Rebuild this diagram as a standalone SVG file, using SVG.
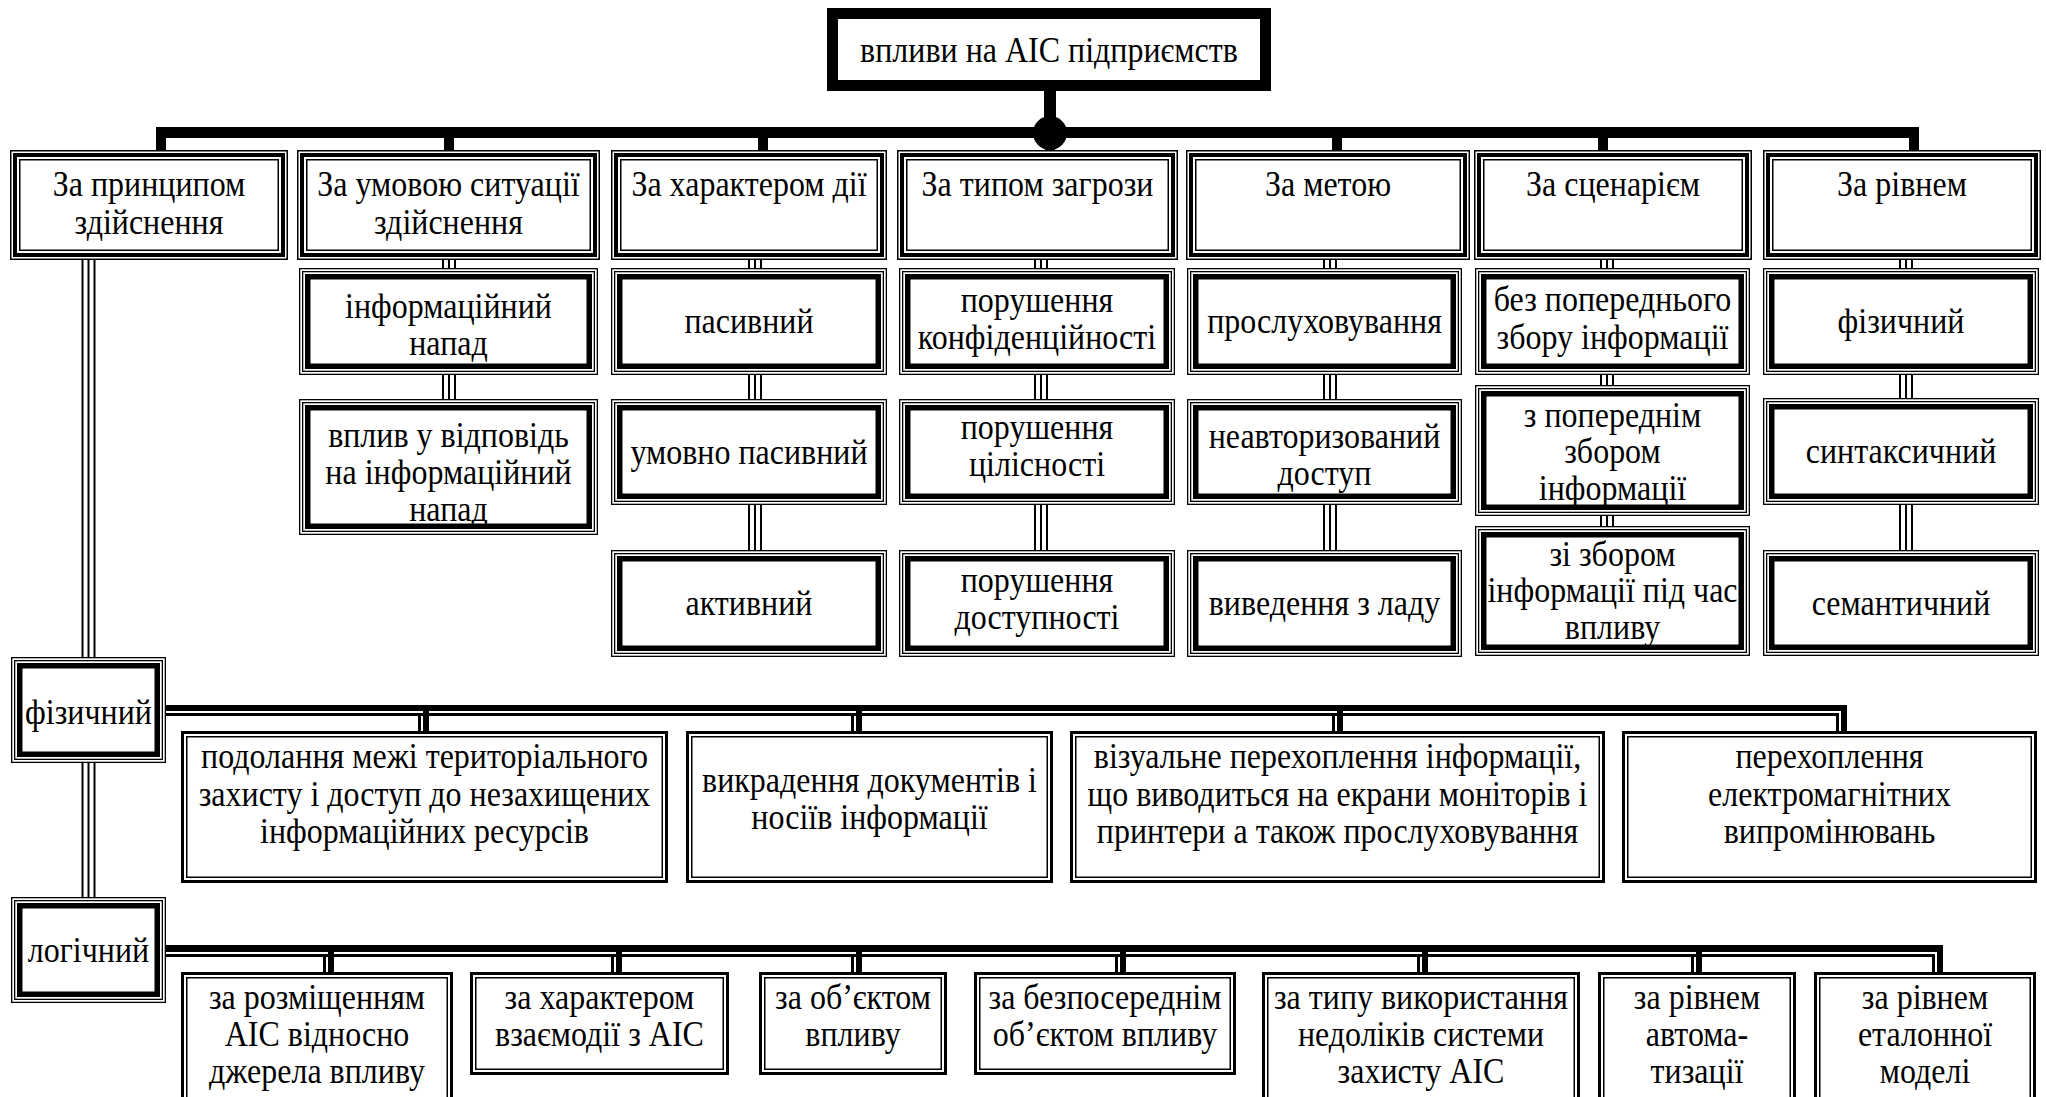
<svg xmlns="http://www.w3.org/2000/svg" width="2046" height="1097" viewBox="0 0 2046 1097">
<defs>
<style>
.t{font-family:"Liberation Serif","Times New Roman",serif;font-size:32px;text-anchor:middle;fill:#000;transform-box:fill-box;transform-origin:center;transform:scaleY(1.12)}
.w1{fill:none;stroke:#000;stroke-width:1.5}
.w13{fill:none;stroke:#000;stroke-width:1.3}
.w3{fill:none;stroke:#000;stroke-width:3}
.w4{fill:none;stroke:#000;stroke-width:4}
.w55{fill:none;stroke:#000;stroke-width:5.5}
.w11{fill:none;stroke:#000;stroke-width:11}
.k{fill:#000}
</style>
</defs>
<rect width="2046" height="1097" fill="#fff"/>

<g id="connectors">
  <rect class="k" x="1044" y="88" width="12" height="45"/>
  <rect class="k" x="156" y="127" width="1763" height="11"/>
  <rect class="k" x="156" y="127" width="10" height="24"/>
  <rect class="k" x="444" y="132" width="10" height="19"/>
  <rect class="k" x="758" y="132" width="10" height="19"/>
  <rect class="k" x="1045" y="132" width="10" height="19"/>
  <rect class="k" x="1332" y="132" width="10" height="19"/>
  <rect class="k" x="1598" y="132" width="10" height="19"/>
  <rect class="k" x="1909" y="127" width="10" height="24"/>
  <circle class="k" cx="1050" cy="133" r="17"/>

  <g class="k">
    <rect x="81.5" y="260" width="2" height="397"/><rect x="87.5" y="260" width="2" height="397"/><rect x="93.5" y="260" width="2" height="397"/>
    <rect x="81.5" y="763" width="2" height="134"/><rect x="87.5" y="763" width="2" height="134"/><rect x="93.5" y="763" width="2" height="134"/>

    <rect x="442" y="259" width="2" height="10"/><rect x="448" y="259" width="2" height="10"/><rect x="454" y="259" width="2" height="10"/>
    <rect x="442" y="374" width="2" height="26"/><rect x="448" y="374" width="2" height="26"/><rect x="454" y="374" width="2" height="26"/>

    <rect x="748" y="259" width="2" height="10"/><rect x="754" y="259" width="2" height="10"/><rect x="760" y="259" width="2" height="10"/>
    <rect x="748" y="374" width="2" height="26"/><rect x="754" y="374" width="2" height="26"/><rect x="760" y="374" width="2" height="26"/>
    <rect x="748" y="504" width="2" height="47"/><rect x="754" y="504" width="2" height="47"/><rect x="760" y="504" width="2" height="47"/>

    <rect x="1034" y="259" width="2" height="10"/><rect x="1040" y="259" width="2" height="10"/><rect x="1046" y="259" width="2" height="10"/>
    <rect x="1034" y="374" width="2" height="26"/><rect x="1040" y="374" width="2" height="26"/><rect x="1046" y="374" width="2" height="26"/>
    <rect x="1034" y="504" width="2" height="47"/><rect x="1040" y="504" width="2" height="47"/><rect x="1046" y="504" width="2" height="47"/>

    <rect x="1323" y="259" width="2" height="10"/><rect x="1329" y="259" width="2" height="10"/><rect x="1335" y="259" width="2" height="10"/>
    <rect x="1323" y="374" width="2" height="26"/><rect x="1329" y="374" width="2" height="26"/><rect x="1335" y="374" width="2" height="26"/>
    <rect x="1323" y="504" width="2" height="47"/><rect x="1329" y="504" width="2" height="47"/><rect x="1335" y="504" width="2" height="47"/>

    <rect x="1600" y="259" width="2" height="10"/><rect x="1606" y="259" width="2" height="10"/><rect x="1612" y="259" width="2" height="10"/>
    <rect x="1600" y="374" width="2" height="12"/><rect x="1606" y="374" width="2" height="12"/><rect x="1612" y="374" width="2" height="12"/>
    <rect x="1600" y="515" width="2" height="12"/><rect x="1606" y="515" width="2" height="12"/><rect x="1612" y="515" width="2" height="12"/>

    <rect x="1899" y="259" width="2" height="10"/><rect x="1905" y="259" width="2" height="10"/><rect x="1911" y="259" width="2" height="10"/>
    <rect x="1899" y="374" width="2" height="25"/><rect x="1905" y="374" width="2" height="25"/><rect x="1911" y="374" width="2" height="25"/>
    <rect x="1899" y="504" width="2" height="47"/><rect x="1905" y="504" width="2" height="47"/><rect x="1911" y="504" width="2" height="47"/>
  </g>

  <g class="k">
    <rect x="165" y="705" width="1682" height="6"/>
    <rect x="165" y="713" width="1674" height="3"/>
    <rect x="1841" y="705" width="6" height="27"/>
    <rect x="1836" y="713" width="3" height="19"/>
    <rect x="418" y="716" width="3" height="16"/><rect x="423" y="711" width="6" height="21"/>
    <rect x="851" y="716" width="3" height="16"/><rect x="856" y="711" width="6" height="21"/>
    <rect x="1332" y="716" width="3" height="16"/><rect x="1337" y="711" width="6" height="21"/>
  </g>

  <g class="k">
    <rect x="165" y="945" width="1778" height="7"/>
    <rect x="165" y="954" width="1770" height="3"/>
    <rect x="1937" y="945" width="6" height="28"/>
    <rect x="1932" y="954" width="3" height="19"/>
    <rect x="323" y="957" width="3" height="16"/><rect x="328" y="952" width="6" height="21"/>
    <rect x="611" y="957" width="3" height="16"/><rect x="616" y="952" width="6" height="21"/>
    <rect x="851" y="957" width="3" height="16"/><rect x="856" y="952" width="6" height="21"/>
    <rect x="1115" y="957" width="3" height="16"/><rect x="1120" y="952" width="6" height="21"/>
    <rect x="1417" y="957" width="3" height="16"/><rect x="1422" y="952" width="6" height="21"/>
    <rect x="1691" y="957" width="3" height="16"/><rect x="1696" y="952" width="6" height="21"/>
  </g>
</g>

<g id="root">
  <rect x="832.5" y="13.5" width="433" height="72" fill="#fff" class="w11"/>
  <text class="t" x="1049" y="61">впливи на АІС підприємств</text>
</g>

<g id="c1">
  <rect class="w1" x="10.75" y="150.75" width="276.5" height="108.5" fill="#fff"/>
  <rect class="w4" x="15" y="155" width="268" height="100"/>
  <rect class="w1" x="19.75" y="159.75" width="258.5" height="90.5"/>
  <text class="t" x="149" y="195">За принципом</text>
  <text class="t" x="149" y="233">здійснення</text>
</g>
<g id="c2">
  <rect class="w1" x="297.75" y="150.75" width="301.5" height="108.5" fill="#fff"/>
  <rect class="w4" x="302" y="155" width="293" height="100"/>
  <rect class="w1" x="306.75" y="159.75" width="283.5" height="90.5"/>
  <text class="t" x="448.5" y="195">За умовою ситуації</text>
  <text class="t" x="448.5" y="233">здійснення</text>
</g>
<g id="c3">
  <rect class="w1" x="611.75" y="150.75" width="274.5" height="108.5" fill="#fff"/>
  <rect class="w4" x="616" y="155" width="266" height="100"/>
  <rect class="w1" x="620.75" y="159.75" width="256.5" height="90.5"/>
  <text class="t" x="749" y="195">За характером дії</text>
</g>
<g id="c4">
  <rect class="w1" x="897.75" y="150.75" width="279.5" height="108.5" fill="#fff"/>
  <rect class="w4" x="902" y="155" width="271" height="100"/>
  <rect class="w1" x="906.75" y="159.75" width="261.5" height="90.5"/>
  <text class="t" x="1037.5" y="195">За типом загрози</text>
</g>
<g id="c5">
  <rect class="w1" x="1186.75" y="150.75" width="282.5" height="108.5" fill="#fff"/>
  <rect class="w4" x="1191" y="155" width="274" height="100"/>
  <rect class="w1" x="1195.75" y="159.75" width="264.5" height="90.5"/>
  <text class="t" x="1328" y="195">За метою</text>
</g>
<g id="c6">
  <rect class="w1" x="1474.75" y="150.75" width="276.5" height="108.5" fill="#fff"/>
  <rect class="w4" x="1479" y="155" width="268" height="100"/>
  <rect class="w1" x="1483.75" y="159.75" width="258.5" height="90.5"/>
  <text class="t" x="1613" y="195">За сценарієм</text>
</g>
<g id="c7">
  <rect class="w1" x="1763.75" y="150.75" width="276.5" height="108.5" fill="#fff"/>
  <rect class="w4" x="1768" y="155" width="268" height="100"/>
  <rect class="w1" x="1772.75" y="159.75" width="258.5" height="90.5"/>
  <text class="t" x="1902" y="195">За рівнем</text>
</g>

<g id="r2c2">
  <rect class="w13" x="299.65" y="268.65" width="297.7" height="105.7" fill="#fff"/>
  <rect class="w13" x="302.65" y="271.65" width="291.7" height="99.7"/>
  <rect class="w55" x="307.75" y="276.75" width="281.5" height="89.5"/>
  <text class="t" x="448.5" y="317">інформаційний</text>
  <text class="t" x="448.5" y="354">напад</text>
</g>
<g id="r3c2">
  <rect class="w13" x="299.65" y="399.65" width="297.7" height="134.7" fill="#fff"/>
  <rect class="w13" x="302.65" y="402.65" width="291.7" height="128.7"/>
  <rect class="w55" x="307.75" y="407.75" width="281.5" height="118.5"/>
  <text class="t" x="448.5" y="446">вплив у відповідь</text>
  <text class="t" x="448.5" y="483">на інформаційний</text>
  <text class="t" x="448.5" y="520">напад</text>
</g>

<g id="r2c3">
  <rect class="w13" x="611.65" y="268.65" width="274.7" height="105.7" fill="#fff"/>
  <rect class="w13" x="614.65" y="271.65" width="268.7" height="99.7"/>
  <rect class="w55" x="619.75" y="276.75" width="258.5" height="89.5"/>
  <text class="t" x="749" y="332">пасивний</text>
</g>
<g id="r3c3">
  <rect class="w13" x="611.65" y="399.65" width="274.7" height="104.7" fill="#fff"/>
  <rect class="w13" x="614.65" y="402.65" width="268.7" height="98.7"/>
  <rect class="w55" x="619.75" y="407.75" width="258.5" height="88.5"/>
  <text class="t" x="749" y="463">умовно пасивний</text>
</g>
<g id="r4c3">
  <rect class="w13" x="611.65" y="550.65" width="274.7" height="105.7" fill="#fff"/>
  <rect class="w13" x="614.65" y="553.65" width="268.7" height="99.7"/>
  <rect class="w55" x="619.75" y="558.75" width="258.5" height="89.5"/>
  <text class="t" x="749" y="614">активний</text>
</g>

<g id="r2c4">
  <rect class="w13" x="899.65" y="268.65" width="274.7" height="105.7" fill="#fff"/>
  <rect class="w13" x="902.65" y="271.65" width="268.7" height="99.7"/>
  <rect class="w55" x="907.75" y="276.75" width="258.5" height="89.5"/>
  <text class="t" x="1037" y="311">порушення</text>
  <text class="t" x="1037" y="348">конфіденційності</text>
</g>
<g id="r3c4">
  <rect class="w13" x="899.65" y="399.65" width="274.7" height="104.7" fill="#fff"/>
  <rect class="w13" x="902.65" y="402.65" width="268.7" height="98.7"/>
  <rect class="w55" x="907.75" y="407.75" width="258.5" height="88.5"/>
  <text class="t" x="1037" y="438">порушення</text>
  <text class="t" x="1037" y="475">цілісності</text>
</g>
<g id="r4c4">
  <rect class="w13" x="899.65" y="550.65" width="274.7" height="105.7" fill="#fff"/>
  <rect class="w13" x="902.65" y="553.65" width="268.7" height="99.7"/>
  <rect class="w55" x="907.75" y="558.75" width="258.5" height="89.5"/>
  <text class="t" x="1037" y="591">порушення</text>
  <text class="t" x="1037" y="628">доступності</text>
</g>

<g id="r2c5">
  <rect class="w13" x="1187.65" y="268.65" width="273.7" height="105.7" fill="#fff"/>
  <rect class="w13" x="1190.65" y="271.65" width="267.7" height="99.7"/>
  <rect class="w55" x="1195.75" y="276.75" width="257.5" height="89.5"/>
  <text class="t" x="1324.5" y="332">прослуховування</text>
</g>
<g id="r3c5">
  <rect class="w13" x="1187.65" y="399.65" width="273.7" height="104.7" fill="#fff"/>
  <rect class="w13" x="1190.65" y="402.65" width="267.7" height="98.7"/>
  <rect class="w55" x="1195.75" y="407.75" width="257.5" height="88.5"/>
  <text class="t" x="1324.5" y="447">неавторизований</text>
  <text class="t" x="1324.5" y="484">доступ</text>
</g>
<g id="r4c5">
  <rect class="w13" x="1187.65" y="550.65" width="273.7" height="105.7" fill="#fff"/>
  <rect class="w13" x="1190.65" y="553.65" width="267.7" height="99.7"/>
  <rect class="w55" x="1195.75" y="558.75" width="257.5" height="89.5"/>
  <text class="t" x="1324.5" y="614">виведення з ладу</text>
</g>

<g id="r2c6">
  <rect class="w13" x="1475.65" y="268.65" width="273.7" height="105.7" fill="#fff"/>
  <rect class="w13" x="1478.65" y="271.65" width="267.7" height="99.7"/>
  <rect class="w55" x="1483.75" y="276.75" width="257.5" height="89.5"/>
  <text class="t" x="1612.5" y="310">без попереднього</text>
  <text class="t" x="1612.5" y="348">збору інформації</text>
</g>
<g id="r3c6">
  <rect class="w13" x="1475.65" y="385.65" width="273.7" height="129.7" fill="#fff"/>
  <rect class="w13" x="1478.65" y="388.65" width="267.7" height="123.7"/>
  <rect class="w55" x="1483.75" y="393.75" width="257.5" height="113.5"/>
  <text class="t" x="1612.5" y="426">з попереднім</text>
  <text class="t" x="1612.5" y="462">збором</text>
  <text class="t" x="1612.5" y="499">інформації</text>
</g>
<g id="r4c6">
  <rect class="w13" x="1475.65" y="526.65" width="273.7" height="128.7" fill="#fff"/>
  <rect class="w13" x="1478.65" y="529.65" width="267.7" height="122.7"/>
  <rect class="w55" x="1483.75" y="534.75" width="257.5" height="112.5"/>
  <text class="t" x="1612.5" y="565">зі збором</text>
  <text class="t" x="1612.5" y="601">інформації під час</text>
  <text class="t" x="1612.5" y="638">впливу</text>
</g>

<g id="r2c7">
  <rect class="w13" x="1763.65" y="268.65" width="274.7" height="105.7" fill="#fff"/>
  <rect class="w13" x="1766.65" y="271.65" width="268.7" height="99.7"/>
  <rect class="w55" x="1771.75" y="276.75" width="258.5" height="89.5"/>
  <text class="t" x="1901" y="332">фізичний</text>
</g>
<g id="r3c7">
  <rect class="w13" x="1763.65" y="398.65" width="274.7" height="105.7" fill="#fff"/>
  <rect class="w13" x="1766.65" y="401.65" width="268.7" height="99.7"/>
  <rect class="w55" x="1771.75" y="406.75" width="258.5" height="89.5"/>
  <text class="t" x="1901" y="462">синтаксичний</text>
</g>
<g id="r4c7">
  <rect class="w13" x="1763.65" y="550.65" width="274.7" height="104.7" fill="#fff"/>
  <rect class="w13" x="1766.65" y="553.65" width="268.7" height="98.7"/>
  <rect class="w55" x="1771.75" y="558.75" width="258.5" height="88.5"/>
  <text class="t" x="1901" y="614">семантичний</text>
</g>

<g id="phys">
  <rect class="w13" x="11.65" y="657.65" width="153.7" height="104.7" fill="#fff"/>
  <rect class="w13" x="14.65" y="660.65" width="147.7" height="98.7"/>
  <rect class="w55" x="19.75" y="665.75" width="137.5" height="88.5"/>
  <text class="t" x="88.5" y="723">фізичний</text>
</g>
<g id="logic">
  <rect class="w13" x="11.65" y="897.65" width="153.7" height="104.7" fill="#fff"/>
  <rect class="w13" x="14.65" y="900.65" width="147.7" height="98.7"/>
  <rect class="w55" x="19.75" y="905.75" width="137.5" height="88.5"/>
  <text class="t" x="88.5" y="961">логічний</text>
</g>

<g id="p1">
  <rect class="w3" x="182.5" y="732.5" width="484" height="149" fill="#fff"/>
  <rect class="w1" x="186.75" y="736.75" width="475.5" height="140.5"/>
  <text class="t" x="424.5" y="767">подолання межі територіального</text>
  <text class="t" x="424.5" y="805">захисту і доступ до незахищених</text>
  <text class="t" x="424.5" y="842">інформаційних ресурсів</text>
</g>
<g id="p2">
  <rect class="w3" x="687.5" y="732.5" width="364" height="149" fill="#fff"/>
  <rect class="w1" x="691.75" y="736.75" width="355.5" height="140.5"/>
  <text class="t" x="869.5" y="791">викрадення документів і</text>
  <text class="t" x="869.5" y="828">носіїв інформації</text>
</g>
<g id="p3">
  <rect class="w3" x="1071.5" y="732.5" width="532" height="149" fill="#fff"/>
  <rect class="w1" x="1075.75" y="736.75" width="523.5" height="140.5"/>
  <text class="t" x="1337.5" y="767">візуальне перехоплення інформації,</text>
  <text class="t" x="1337.5" y="805">що виводиться на екрани моніторів і</text>
  <text class="t" x="1337.5" y="842">принтери а також прослуховування</text>
</g>
<g id="p4">
  <rect class="w3" x="1623.5" y="732.5" width="412" height="149" fill="#fff"/>
  <rect class="w1" x="1627.75" y="736.75" width="403.5" height="140.5"/>
  <text class="t" x="1829.5" y="767">перехоплення</text>
  <text class="t" x="1829.5" y="805">електромагнітних</text>
  <text class="t" x="1829.5" y="842">випромінювань</text>
</g>

<g id="l1">
  <rect class="w3" x="182.5" y="973.5" width="269" height="137" fill="#fff"/>
  <rect class="w1" x="186.75" y="977.75" width="260.5" height="128.5"/>
  <text class="t" x="317" y="1008">за розміщенням</text>
  <text class="t" x="317" y="1045">АІС відносно</text>
  <text class="t" x="317" y="1082">джерела впливу</text>
</g>
<g id="l2">
  <rect class="w3" x="471.5" y="973.5" width="256" height="100" fill="#fff"/>
  <rect class="w1" x="475.75" y="977.75" width="247.5" height="91.5"/>
  <text class="t" x="599.5" y="1008">за характером</text>
  <text class="t" x="599.5" y="1045">взаємодії з АІС</text>
</g>
<g id="l3">
  <rect class="w3" x="760.5" y="973.5" width="185" height="100" fill="#fff"/>
  <rect class="w1" x="764.75" y="977.75" width="176.5" height="91.5"/>
  <text class="t" x="853" y="1008">за об’єктом</text>
  <text class="t" x="853" y="1045">впливу</text>
</g>
<g id="l4">
  <rect class="w3" x="975.5" y="973.5" width="259" height="100" fill="#fff"/>
  <rect class="w1" x="979.75" y="977.75" width="250.5" height="91.5"/>
  <text class="t" x="1105" y="1008">за безпосереднім</text>
  <text class="t" x="1105" y="1045">об’єктом впливу</text>
</g>
<g id="l5">
  <rect class="w3" x="1263.5" y="973.5" width="315" height="137" fill="#fff"/>
  <rect class="w1" x="1267.75" y="977.75" width="306.5" height="128.5"/>
  <text class="t" x="1421" y="1008">за типу використання</text>
  <text class="t" x="1421" y="1045">недоліків системи</text>
  <text class="t" x="1421" y="1082">захисту АІС</text>
</g>
<g id="l6">
  <rect class="w3" x="1599.5" y="973.5" width="195" height="137" fill="#fff"/>
  <rect class="w1" x="1603.75" y="977.75" width="186.5" height="128.5"/>
  <text class="t" x="1697" y="1008">за рівнем</text>
  <text class="t" x="1697" y="1045">автома-</text>
  <text class="t" x="1697" y="1082">тизації</text>
</g>
<g id="l7">
  <rect class="w3" x="1815.5" y="973.5" width="219" height="137" fill="#fff"/>
  <rect class="w1" x="1819.75" y="977.75" width="210.5" height="128.5"/>
  <text class="t" x="1925" y="1008">за рівнем</text>
  <text class="t" x="1925" y="1045">еталонної</text>
  <text class="t" x="1925" y="1082">моделі</text>
</g>
</svg>
